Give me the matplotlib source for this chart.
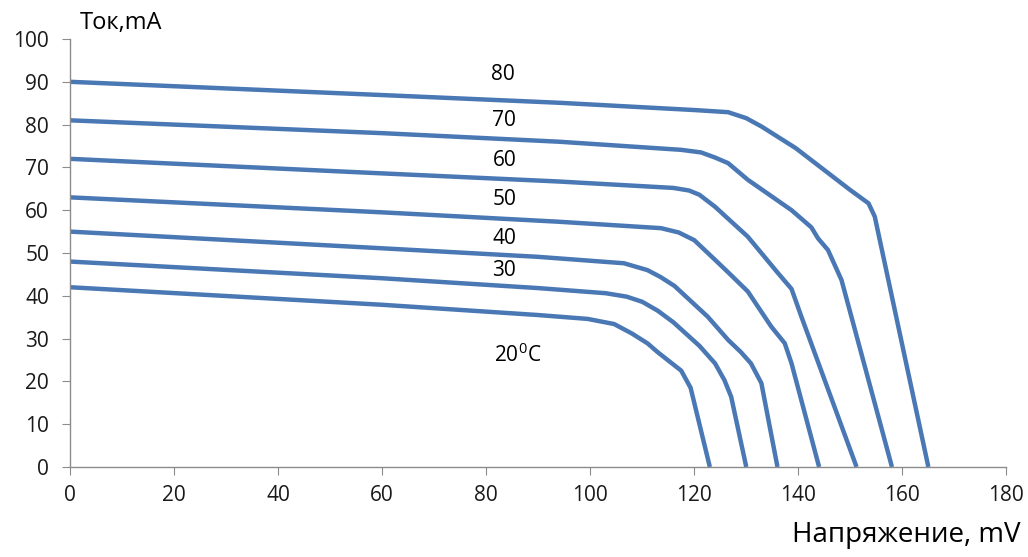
import numpy as np
import matplotlib.pyplot as plt

# curves: voltage (mV) -> current (mA)
x20 = [0, 60, 90, 99.5, 104.6, 108, 111, 113, 117.5, 119.3, 123]
y20 = [42, 37.9, 35.5, 34.6, 33.4, 31.2, 28.9, 26.8, 22.5, 18.5, 0]

x30 = [0, 60, 90, 103, 107, 110, 113, 116, 121, 124, 125.8, 127.1, 130]
y30 = [48, 44.1, 41.8, 40.6, 39.8, 38.6, 36.5, 33.8, 28.3, 24.2, 20.3, 16.4, 0]

x40 = [0, 60, 90, 106.5, 111, 113.5, 116.2, 122.6, 126.5, 129, 130.9, 132.9, 136]
y40 = [55, 51.1, 49.1, 47.6, 46.0, 44.4, 42.3, 35.1, 29.7, 26.8, 24.2, 19.6, 0]

x50 = [0, 60, 94, 113.6, 117, 120, 124, 126.5, 130.3, 134.8, 137.4, 138.7, 144]
y50 = [63, 59.5, 57.3, 55.8, 54.8, 53.0, 48.4, 45.5, 41.0, 32.8, 28.9, 24.2, 0]

x60 = [0, 60, 94, 116, 119, 121, 124, 130.3, 136.1, 138.7, 140.6, 151.2]
y60 = [72, 68.6, 66.7, 65.2, 64.6, 63.6, 60.8, 53.8, 45.3, 41.6, 35.1, 0]

x70 = [0, 60, 94, 117.5, 121.3, 124, 126.5, 130.3, 138.7, 142.5, 143.8, 145.7, 148.3, 158]
y70 = [81, 78.0, 76.0, 74.1, 73.5, 72.3, 71.0, 67.1, 60.0, 56.0, 53.4, 50.7, 43.7, 0]

x80 = [0, 60, 94, 120, 126.5, 130, 133, 139.5, 150, 153.5, 154.7, 165]
y80 = [90, 86.9, 85.1, 83.4, 82.9, 81.5, 79.5, 74.5, 64.7, 61.6, 58.5, 0]

curve_x = [x20, x30, x40, x50, x60, x70, x80]
curve_y = [y20, y30, y40, y50, y60, y70, y80]

labels = ["20$^\\mathrm{0}$C", "30", "40", "50", "60", "70", "80"]
label_x = [86.0, 83.5, 83.5, 83.5, 83.5, 83.5, 83.2]
label_y = [26.2, 46.0, 53.4, 62.6, 71.7, 80.9, 91.6]

plt.rcParams['font.family'] = ['Open Sans', 'DejaVu Sans']
plt.rcParams['mathtext.fontset'] = 'custom'
plt.rcParams['mathtext.rm'] = 'Open Sans'

fig = plt.figure(figsize=(10.28, 5.57), dpi=100)
ax = fig.add_axes([0.068, 0.1616, 0.911, 0.7684])

line_col = '#4a78b4'
for cx, cy in zip(curve_x, curve_y):
    ax.plot(cx, cy, color=line_col, lw=3.2, solid_joinstyle='round', solid_capstyle='butt')

for t, lx, ly in zip(labels, label_x, label_y):
    ax.text(lx, ly, t, ha='center', va='center', fontsize=15, color='black')

ax.set_xlim(0, 180)
ax.set_ylim(0, 100)
ax.set_xticks(np.arange(0, 181, 20))
ax.set_yticks(np.arange(0, 101, 10))

for s in ['top', 'right']:
    ax.spines[s].set_visible(False)
for s in ['left', 'bottom']:
    ax.spines[s].set_color('#8c8c8c')
    ax.spines[s].set_linewidth(1.0)
ax.tick_params(axis='both', direction='out', length=6, color='#8c8c8c',
               labelsize=15, labelcolor='#1a1a1a')
ax.tick_params(axis='x', pad=7)
ax.tick_params(axis='y', pad=9)

fig.text(0.078, 0.958, "Ток,mA", fontsize=17, ha='left', va='center')
fig.text(0.993, 0.04, "Напряжение, mV", fontsize=20, ha='right', va='center')

fig.savefig('out.png', dpi=100)
